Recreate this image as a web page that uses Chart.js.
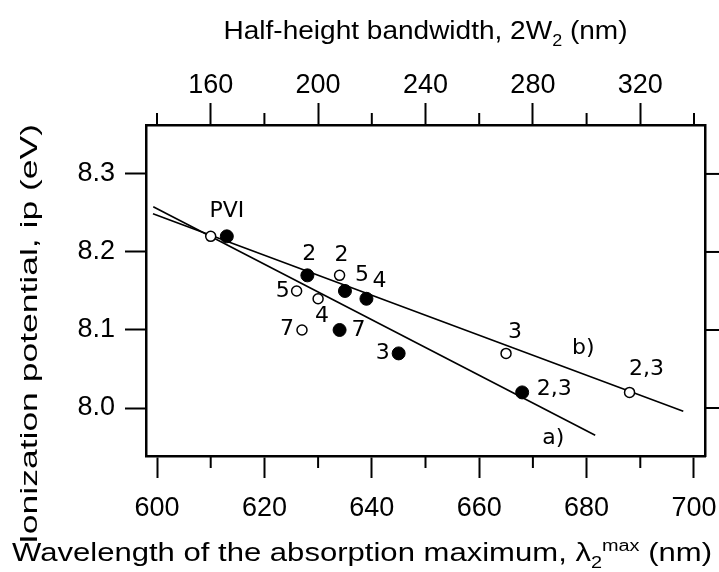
<!DOCTYPE html>
<html>
<head>
<meta charset="utf-8">
<script src="https://cdn.jsdelivr.net/npm/chart.js@4.4.1/dist/chart.umd.min.js"></script>
<style>
  html, body { margin: 0; padding: 0; background: #fff; }
  canvas { display: block; }
</style>
</head>
<body>
<canvas id="ipChart" width="719" height="572"></canvas>
<script>
// ===== Data =====
// filled circles: wavelength of absorption maximum (bottom axis)
const filledX = [613, 628, 635, 639, 634, 645, 668];
const filledY = [8.22, 8.17, 8.15, 8.14, 8.10, 8.07, 8.02];
const filledLabels = ["PVI", "2", "5", "4", "7", "3", "2,3"];

// open circles: half-height bandwidth (top axis)
const openX = [160, 208, 192, 200, 194, 270, 316];
const openY = [8.22, 8.17, 8.15, 8.14, 8.10, 8.07, 8.02];
const openLabels = ["", "2", "5", "4", "7", "3", "2,3"];

// fitted lines a) (bottom axis) and b) (top axis), end points
const fitAX = [599.3, 681.6];
const fitAY = [8.258, 7.965];
const fitBX = [138.5, 336.0];
const fitBY = [8.249, 7.996];

const xTicksMinor = [610, 630, 650, 670, 690];
const x2TicksMinor = [140, 180, 220, 260, 300, 340];
const yTicks = [8.0, 8.1, 8.2, 8.3];

// label offsets in pixels from their point
const filledOffsets = [[0, -25], [2, -21], [17, -16], [13, -17], [19, 0], [-16, 0], [32, -3]];
const openOffsets = [[0, 0], [2, -20], [-14, 0], [4, 18], [-15, -1], [9, -21], [17, -23]];

const pairs = (xs, ys) => xs.map((x, i) => ({ x: x, y: ys[i] }));

const tickFont = { family: "'Liberation Sans', Arial, sans-serif", size: 27 };
const labelFont = "22px 'DejaVu Sans', Verdana, sans-serif";
const titleFamily = "'Liberation Sans', Arial, sans-serif";

// ===== plugins =====
const extraTicks = {
    id: "extraTicks",
    afterDraw(chart) {
        const ctx = chart.ctx;
        const area = chart.chartArea;
        const line = (x1, y1, x2, y2) => {
            ctx.beginPath();
            ctx.moveTo(x1, y1);
            ctx.lineTo(x2, y2);
            ctx.stroke();
        };
        ctx.save();
        ctx.strokeStyle = "#000";
        ctx.lineWidth = 2;
        xTicksMinor.forEach((v) => {
            const px = chart.scales.x.getPixelForValue(v);
            line(px, area.bottom, px, area.bottom + 12);
        });
        x2TicksMinor.forEach((v) => {
            const px = chart.scales.x2.getPixelForValue(v);
            line(px, area.top, px, area.top - 12);
        });
        // right side ticks
        yTicks.forEach((v) => {
            const py = chart.scales.y.getPixelForValue(v);
            line(area.right, py, area.right + 14, py);
        });
        ctx.restore();
    }
};

// text made of normal / sub / sup pieces, centred on 0 and stretched to a width
function drawRich(ctx, parts, size, targetWidth) {
    const fontFor = (p) => (p[1] ? Math.round(size * 0.62) : size) + "px " + titleFamily;
    const widths = parts.map((p) => {
        ctx.font = fontFor(p);
        return ctx.measureText(p[0]).width;
    });
    const total = widths.reduce((a, b) => a + b, 0);
    ctx.scale(targetWidth / total, 1);
    let x = -total / 2;
    parts.forEach((p, i) => {
        ctx.font = fontFor(p);
        let dy = 0;
        if (p[1] === "sub") dy = size * 0.28;
        if (p[1] === "sup") dy = -size * 0.42;
        ctx.fillText(p[0], x, dy);
        x += widths[i];
    });
}

const axisTitles = {
    id: "axisTitles",
    afterDraw(chart) {
        const ctx = chart.ctx;
        const area = chart.chartArea;
        ctx.save();
        ctx.fillStyle = "#000";
        ctx.textAlign = "left";
        ctx.textBaseline = "alphabetic";

        ctx.save();
        ctx.translate((area.left + area.right) / 2, 39);
        drawRich(ctx, [["Half-height bandwidth, 2W", ""], ["2", "sub"], [" (nm)", ""]], 25, 404);
        ctx.restore();

        ctx.save();
        ctx.translate(362, 561);
        drawRich(ctx, [["Wavelength of the absorption maximum, \u03bb", ""], ["2", "sub"], ["max", "sup"], [" (nm)", ""]], 25, 700);
        ctx.restore();

        ctx.save();
        ctx.translate(37, 334);
        ctx.rotate(-Math.PI / 2);
        drawRich(ctx, [["Ionization potential, ip (eV)", ""]], 24, 420);
        ctx.restore();

        ctx.restore();
    }
};

const pointLabels = {
    id: "pointLabels",
    afterDatasetsDraw(chart) {
        const ctx = chart.ctx;
        ctx.save();
        ctx.fillStyle = "#000";
        ctx.font = labelFont;
        ctx.textAlign = "center";
        ctx.textBaseline = "middle";
        const put = (dsIndex, labels, offsets) => {
            chart.getDatasetMeta(dsIndex).data.forEach((pt, i) => {
                if (!labels[i]) return;
                ctx.fillText(labels[i], pt.x + offsets[i][0], pt.y + offsets[i][1]);
            });
        };
        put(0, filledLabels, filledOffsets);
        put(1, openLabels, openOffsets);

        // line names near the end of each fit
        const sx = chart.scales.x, sx2 = chart.scales.x2, sy = chart.scales.y;
        ctx.fillText("a)", sx.getPixelForValue(673.8), sy.getPixelForValue(7.961));
        ctx.fillText("b)", sx2.getPixelForValue(298.8), sy.getPixelForValue(8.0765));
        ctx.restore();
    }
};

// ===== chart =====
const yMin = 7.9385, yMax = 8.3627;

const grid = {
    drawOnChartArea: false,
    drawTicks: true,
    tickLength: 22,
    tickWidth: 2,
    tickColor: "#000"
};
const border = { display: true, color: "#000", width: 2.5 };

// fixed axis sizes so the plot box sits where it does in the figure
const fixHeight = (h) => (s) => {
    s.height = h;
    s.paddingLeft = 0;
    s.paddingRight = 0;
};

new Chart(document.getElementById("ipChart").getContext("2d"), {
    type: "scatter",
    data: {
        datasets: [{
            data: pairs(filledX, filledY),
            xAxisID: "x",
            yAxisID: "y",
            pointRadius: 6.5,
            backgroundColor: "#000",
            borderColor: "#000",
            borderWidth: 1
        }, {
            data: pairs(openX, openY),
            xAxisID: "x2",
            yAxisID: "y",
            pointRadius: 5,
            backgroundColor: "#fff",
            borderColor: "#000",
            borderWidth: 1.5
        }, {
            data: pairs(fitAX, fitAY),
            xAxisID: "x",
            yAxisID: "y",
            showLine: true,
            pointRadius: 0,
            borderColor: "#000",
            borderWidth: 1.6
        }, {
            data: pairs(fitBX, fitBY),
            xAxisID: "x2",
            yAxisID: "y",
            showLine: true,
            pointRadius: 0,
            borderColor: "#000",
            borderWidth: 1.6
        }]
    },
    options: {
        responsive: false,
        animation: false,
        layout: { padding: 0, autoPadding: false },
        plugins: {
            legend: { display: false },
            tooltip: { enabled: false }
        },
        scales: {
            x: {
                type: "linear",
                position: "bottom",
                min: 597.95,
                max: 702.05,
                afterFit: fixHeight(572 - 456),
                ticks: {
                    stepSize: 20,
                    includeBounds: false,
                    font: tickFont,
                    color: "#000",
                    padding: 14,
                    maxRotation: 0
                },
                grid: grid,
                border: border
            },
            x2: {
                type: "linear",
                position: "top",
                min: 135.9,
                max: 344.1,
                afterFit: fixHeight(125),
                ticks: {
                    stepSize: 40,
                    includeBounds: false,
                    font: tickFont,
                    color: "#000",
                    padding: 1,
                    maxRotation: 0
                },
                grid: grid,
                border: border
            },
            y: {
                type: "linear",
                position: "left",
                min: yMin,
                max: yMax,
                afterFit: (s) => { s.width = 146; },
                ticks: {
                    stepSize: 0.1,
                    includeBounds: false,
                    font: tickFont,
                    color: "#000",
                    padding: 10,
                    callback: (v) => v.toFixed(1)
                },
                grid: Object.assign({}, grid, { tickLength: 21 }),
                border: border
            },
            y2: {
                type: "linear",
                position: "right",
                min: yMin,
                max: yMax,
                afterFit: (s) => { s.width = 14; },
                ticks: { display: false },
                grid: { display: false },
                border: border
            }
        }
    },
    plugins: [extraTicks, axisTitles, pointLabels]
});
</script>
</body>
</html>
